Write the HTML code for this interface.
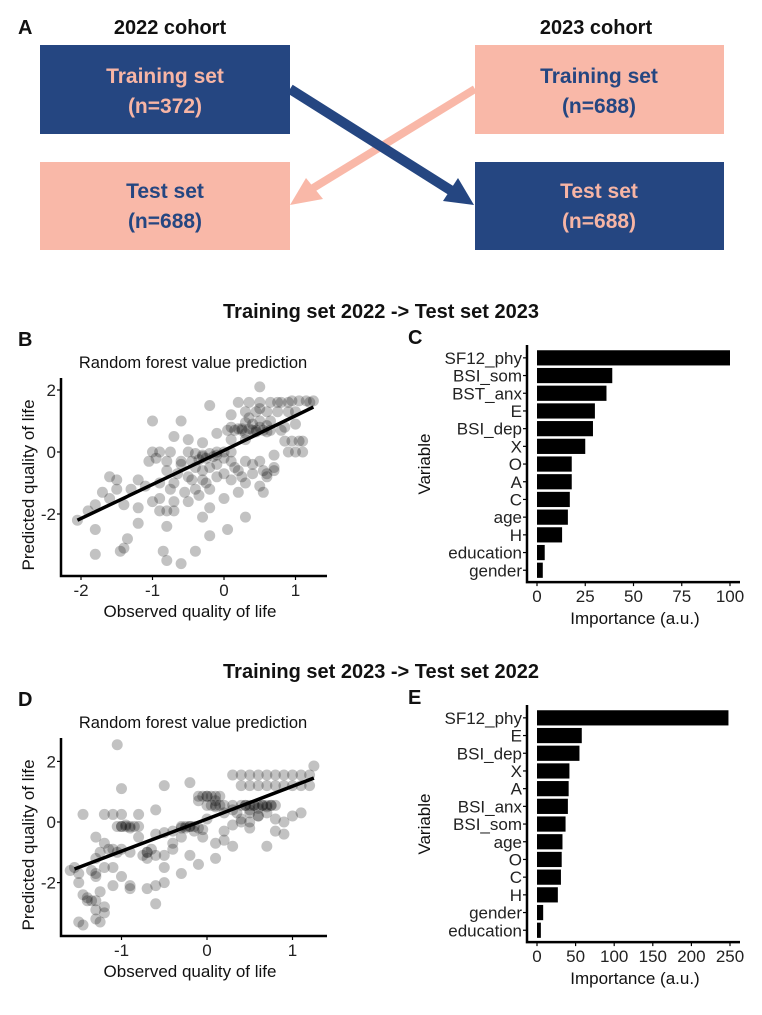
<!DOCTYPE html>
<html><head><meta charset="utf-8">
<style>
html,body{margin:0;padding:0;background:#fff;}
svg{display:block;font-family:"Liberation Sans",sans-serif;}
</style></head>
<body>
<svg id="fig" width="762" height="1015" viewBox="0 0 762 1015">
  <g font-family="Liberation Sans Narrow, Liberation Sans, sans-serif" font-weight="bold">
    <text x="18" y="34" font-size="20" fill="#111">A</text>
    <text x="170" y="34" font-size="20" text-anchor="middle" fill="#111">2022 cohort</text>
    <text x="596" y="34" font-size="20" text-anchor="middle" fill="#111">2023 cohort</text>
    <rect x="40" y="45" width="250" height="89" fill="#254681"/>
    <text x="165" y="83" font-size="21" text-anchor="middle" fill="#f7b5a5">Training set</text>
    <text x="165" y="113" font-size="21" text-anchor="middle" fill="#f7b5a5">(n=372)</text>
    <rect x="40" y="162" width="250" height="88" fill="#f9b8a8"/>
    <text x="165" y="198" font-size="21" text-anchor="middle" fill="#254681">Test set</text>
    <text x="165" y="228" font-size="21" text-anchor="middle" fill="#254681">(n=688)</text>
    <rect x="475" y="45" width="249" height="89" fill="#f9b8a8"/>
    <text x="599" y="83" font-size="21" text-anchor="middle" fill="#254681">Training set</text>
    <text x="599" y="113" font-size="21" text-anchor="middle" fill="#254681">(n=688)</text>
    <rect x="475" y="162" width="249" height="88" fill="#254681"/>
    <text x="599" y="198" font-size="21" text-anchor="middle" fill="#f7b5a5">Test set</text>
    <text x="599" y="228" font-size="21" text-anchor="middle" fill="#f7b5a5">(n=688)</text>
    <line x1="475" y1="89" x2="305" y2="193" stroke="#f9b8a8" stroke-width="8"/>
    <polygon points="290,205 306,178 323,199" fill="#f9b8a8"/>
    <line x1="290" y1="89" x2="455" y2="193" stroke="#254681" stroke-width="10"/>
    <polygon points="474,205 458,178 443,201" fill="#254681"/>
    <text x="381" y="318" font-size="20" text-anchor="middle" fill="#111">Training set 2022 -&gt; Test set 2023</text>
    <text x="381" y="678" font-size="20" text-anchor="middle" fill="#111">Training set 2023 -&gt; Test set 2022</text>
  </g>
  <g id="charts"></g>
</svg>
<script>
const obsB = [0.2,0.35,0.5,0.65,0.8,0.95,1.05,1.15,1.25,0.3,0.45,0.6,0.75,0.9,1.0,0.05,0.15,0.25,0.35,0.45,0.55,0.65,0.4,0.3,0.5,0.85,0.95,1.05,1.1,-0.5,-0.4,-0.3,-0.2,-0.1,0,0.1,0.9,1.0,1.1,0.7,-1.0,-0.9,-0.75,-0.8,-0.6,-0.4,-0.2,0.1,0.3,0.5,0.7,0.2,0.4,0.6,-0.5,-0.3,-0.1,0.1,0.3,0.5,-0.7,-0.9,-1.1,-0.4,-0.2,0,0.2,0.55,-0.9,-0.7,-0.5,-0.8,-0.9,-0.7,-1.0,-1.2,-1.4,-1.6,-1.7,-1.5,-1.6,-1.8,-1.9,-2.05,-1.8,-1.35,-1.4,-1.8,-1.45,-0.8,-0.6,-0.8,-0.85,-0.4,-0.2,-0.3,0.05,0.3,-1.2,-0.2,-1.0,-0.6,-0.2,0.1,0.5,-0.7,-0.5,-0.3,0.1,0.3,-0.1,0.6,0.7,-1.3,-1.5,-1.2,0.2,0.4,0.3,0.5,0.6,-0.3,-0.1,0.0,0.8,0.1,0.25,0.45,0.6,0.35,0.5,-0.25,-0.15,-0.35,-0.45,-0.6,-0.8,-0.3,-0.1,0.15,0.4,0.55,-0.65,-0.45,-0.25,0.0,0.25,-1.05,-0.95,0.65,0.85,1.0,1.2,0.75,0.9,-0.55,-0.35,-0.75];
const predB = [1.6,1.6,1.6,1.6,1.6,1.65,1.65,1.65,1.65,1.3,1.3,1.3,1.3,1.3,1.3,0.7,0.7,0.7,0.75,0.7,0.7,0.7,0.9,0.95,1.0,0.35,0.35,0.35,0.35,0,-0.05,-0.1,-0.05,0,0,0,0,0,0,-0.1,0,0,0,-0.3,-0.3,-0.5,-0.5,-0.3,-0.3,-0.3,-0.5,-0.6,-0.7,-0.7,-0.8,-0.9,-0.8,-0.9,-1.0,-1.1,-1.0,-1.0,-1.1,-1.2,-1.2,-1.5,-1.3,-1.3,-1.5,-1.6,-1.6,-1.9,-1.9,-1.9,-1.6,-1.8,-1.7,-1.5,-1.3,-0.9,-0.8,-1.7,-1.9,-2.2,-2.5,-2.8,-3.1,-3.3,-3.2,-2.4,-3.6,-3.5,-3.2,-3.2,-2.7,-2.1,-2.5,-2.1,-2.3,-1.8,1.0,1.0,1.5,1.2,2.1,0.5,0.4,0.3,0.4,0.4,0.6,-0.8,-0.6,-1.2,-1.2,-0.9,0.75,0.7,0.6,0.8,0.65,-0.15,-0.1,-0.2,0.7,0.8,0.75,0.65,0.85,1.1,1.4,-0.2,-0.15,-0.25,-0.3,-0.4,-0.6,-0.6,-0.4,-0.5,-0.4,-0.6,-0.7,-0.9,-1.0,-0.7,-0.8,-0.3,-0.2,1.0,0.8,0.9,1.6,1.6,1.6,-1.3,-1.4,-1.2];
const fitB = [[-2.05,-2.2],[0,0.05],[1.25,1.45]];
const obsD = [0,0.05,0.1,0.15,0.2,0.3,0.4,0.45,0.5,0.55,0.6,0.65,0.7,0.75,0.8,-0.1,-0.05,0,0.05,0.1,0.15,0.3,0.4,0.5,0.6,0.7,0.8,0.9,1.0,1.1,1.2,0.4,0.5,0.6,0.7,0.8,0.9,1.0,1.1,1.2,-1.05,-1.0,-0.95,-0.9,-0.85,-0.8,-0.3,-0.25,-0.2,-0.15,-0.1,-0.05,-1.45,-1.2,-1.1,-1.0,-0.8,-0.6,-1.3,-1.2,-1.1,-1.0,-0.9,-0.7,-0.6,-0.5,-0.4,-0.3,-0.8,-0.6,-0.4,-0.2,-1.3,-1.2,-1.1,-1.0,-0.7,-0.5,-1.4,-1.3,-1.2,-1.55,-1.5,-1.45,-1.35,-1.3,-1.25,-1.2,-1.5,-1.45,-1.3,-1.25,-1.6,-1.5,-1.3,-1.1,-0.9,-0.6,-0.6,-0.3,-0.1,-0.5,-1.05,-1.0,-0.5,-0.2,0,0.2,0.3,0.1,0.3,0.5,0.6,0.7,0.8,0.9,1.0,1.1,0.9,0.7,0.8,0.4,0.2,0.1,1.25,-0.05,0.1,0.2,0.35,0.5,-0.9,-0.7,0.45,0.55,0.65,0.75,0.5,0.6,0.7,-0.1,0.0,0.1,-0.2,-0.25,-0.15,-1.0,-0.95,-0.9,-1.25,-1.15,-1.05,-0.7,-0.75,-0.65,-1.35,-1.3,-1.4,0.5,0.6,0.4,0.3,-0.4,-0.5,-0.3];
const predD = [0.55,0.55,0.55,0.55,0.55,0.55,0.55,0.55,0.55,0.55,0.55,0.55,0.55,0.55,0.55,0.85,0.85,0.85,0.85,0.85,0.85,1.55,1.55,1.55,1.55,1.55,1.55,1.55,1.55,1.55,1.55,1.2,1.2,1.2,1.2,1.2,1.2,1.2,1.2,1.2,-0.15,-0.15,-0.15,-0.15,-0.15,-0.15,-0.15,-0.15,-0.15,-0.15,-0.2,-0.25,0.25,0.25,0.25,0.25,0.25,0.4,-0.5,-0.7,-0.9,-0.9,-1.0,-1.0,-1.1,-1.1,-0.7,-0.5,-0.5,-0.4,-0.9,-1.1,-1.2,-1.5,-1.5,-1.8,-1.2,-1.5,-2.5,-2.6,-2.8,-1.5,-2.0,-2.4,-2.6,-2.9,-3.3,-3.0,-3.3,-3.4,-3.2,-2.3,-1.6,-1.7,-1.8,-2.1,-2.1,-2.1,-2.7,-1.7,-1.4,-2.0,2.55,1.1,1.2,1.3,0.1,-0.3,-0.1,-0.7,-0.8,-0.2,0.2,0.3,-0.3,0.0,0.2,0.3,-0.4,-0.8,0.1,0.0,0.3,0.5,1.85,-0.5,-1.2,-0.6,0.3,0.0,-2.2,-2.2,0.55,0.55,0.55,0.55,0.4,0.45,0.5,0.7,0.85,0.7,-0.15,-0.2,-0.3,-0.15,-0.1,-0.2,-1.0,-0.9,-1.0,-1.0,-1.1,-0.9,-1.6,-1.7,-2.6,0.3,0.2,0.1,0.4,-0.3,-0.35,-0.2];
const fitD = [[-1.55,-1.55],[0,0.1],[1.25,1.45]];
const varsC = ["SF12_phy","BSI_som","BST_anx","E","BSI_dep","X","O","A","C","age","H","education","gender"];
const impC = [100,39,36,30,29,25,18,18,17,16,13,4,3];
const ticksC = [0,25,50,75,100];
const varsE = ["SF12_phy","E","BSI_dep","X","A","BSI_anx","BSI_som","age","O","C","H","gender","education"];
const impE = [248,58,55,42,41,40,37,33,32,31,27,8,5];
const ticksE = [0,50,100,150,200,250];
const xTicksB = [-2,-1,0,1];
const yTicksB = [-2,0,2];
const xTicksD = [-1,0,1];
const yTicksD = [-2,0,2];

const NS = "http://www.w3.org/2000/svg";
const root = document.getElementById('charts');
function mk(tag, attrs, parent, text){
  const e = document.createElementNS(NS, tag);
  for (const k in attrs) e.setAttribute(k, attrs[k]);
  if (text !== undefined) e.textContent = text;
  (parent || root).appendChild(e);
  return e;
}

function scatter(cfg, obs, pred, fit, xt, yt){
  const g = mk('g', {});
  
  
  const sx = v => cfg.x0 + v * cfg.kx;
  const sy = v => cfg.y0 - v * cfg.ky;
  const lab = mk('text', {x:18, y:cfg.labelY, 'font-size':20, 'font-weight':'bold', fill:'#111'}, g, cfg.label);
  
  
  const t = mk('text', {x:193, y:cfg.titleY, 'font-size':16.5, 'text-anchor':'middle', fill:'#111'}, g, 'Random forest value prediction');
  
  
  for (let i = 0; i < obs.length; i++){
    const c = mk('circle', {cx:sx(obs[i]), cy:sy(pred[i]), r:5.5, fill:'rgba(0,0,0,0.24)'}, g);
    
    
  }
  const pts = fit.map(p => sx(p[0]) + ',' + sy(p[1])).join(' ');
  const fl = mk('polyline', {points:pts, fill:'none', stroke:'#000', 'stroke-width':3.5}, g);
  
  
  const ax = mk('path', {d:`M${cfg.axX},${cfg.axTop} V${cfg.axY} H${cfg.axRight}`, fill:'none', stroke:'#000', 'stroke-width':2.5}, g);
  
  
  xt.forEach(v => {
    mk('line', {x1:sx(v), x2:sx(v), y1:cfg.axY, y2:cfg.axY+4, stroke:'#000', 'stroke-width':1.2}, g);
    const tl = mk('text', {x:sx(v), y:cfg.axY+20, 'font-size':17, 'text-anchor':'middle', fill:'#222'}, g, String(v));
    
    
  });
  yt.forEach(v => {
    mk('line', {x1:cfg.axX-4, x2:cfg.axX, y1:sy(v), y2:sy(v), stroke:'#000', 'stroke-width':1.2}, g);
    const tl = mk('text', {x:cfg.axX-5, y:sy(v)+6, 'font-size':17, 'text-anchor':'end', fill:'#222'}, g, String(v));
    
    
  });
  const xtit = mk('text', {x:190, y:cfg.axY+41, 'font-size':17, 'text-anchor':'middle', fill:'#111'}, g, 'Observed quality of life');
  
  
  const cy = (cfg.axTop + cfg.axY) / 2 + 8;
  const ytit = mk('text', {x:34, y:cy, 'font-size':17, 'text-anchor':'middle', fill:'#111', transform:`rotate(-90 34 ${cy})`}, g, 'Predicted quality of life');
  
  
}

function bars(cfg, vars, vals, ticks){
  const g = mk('g', {});
  
  
  const sx = v => cfg.x0 + v * cfg.kx;
  const pitch = 17.7;
  const lab = mk('text', {x:408, y:cfg.labelY, 'font-size':20, 'font-weight':'bold', fill:'#111'}, g, cfg.label);
  
  
  vars.forEach((name, i) => {
    const cy = cfg.top + pitch/2 + i * pitch;
    const r = mk('rect', {x:sx(0), y:cy-7.6, width:Math.max(0, sx(vals[i]) - sx(0)), height:15.2, fill:'#000'}, g);
    
    
    mk('line', {x1:cfg.axX-4, x2:cfg.axX, y1:cy, y2:cy, stroke:'#000', 'stroke-width':1.2}, g);
    const tl = mk('text', {x:cfg.axX-5, y:cy+6, 'font-size':17, 'text-anchor':'end', fill:'#222'}, g, name);
    
    
  });
  const axY = cfg.top + vars.length * pitch + 3;
  const ax = mk('path', {d:`M${cfg.axX},${cfg.top-4} V${axY} H${cfg.axRight}`, fill:'none', stroke:'#000', 'stroke-width':2.5}, g);
  
  
  ticks.forEach(v => {
    mk('line', {x1:sx(v), x2:sx(v), y1:axY, y2:axY+4, stroke:'#000', 'stroke-width':1.2}, g);
    const tl = mk('text', {x:sx(v), y:axY+20, 'font-size':17, 'text-anchor':'middle', fill:'#222'}, g, String(v));
    
    
  });
  const xtit = mk('text', {x:635, y:axY+42, 'font-size':17, 'text-anchor':'middle', fill:'#111'}, g, 'Importance (a.u.)');
  
  
  const cy = cfg.top + vars.length * pitch / 2;
  const ytit = mk('text', {x:430, y:cy, 'font-size':17, 'text-anchor':'middle', fill:'#111', transform:`rotate(-90 430 ${cy})`}, g, 'Variable');
  
  
}

scatter({name:'panel-b-scatter', label:'B', labelY:346, titleY:368, x0:224, kx:71.5, y0:452, ky:31,
  axX:61, axTop:378, axY:576, axRight:327}, obsB, predB, fitB, xTicksB, yTicksB);
scatter({name:'panel-d-scatter', label:'D', labelY:706, titleY:728, x0:207, kx:85.5, y0:822, ky:30.3,
  axX:61, axTop:738, axY:936, axRight:327}, obsD, predD, fitD, xTicksD, yTicksD);
bars({name:'panel-c-importance', label:'C', labelY:344, top:349, x0:537, kx:1.93, axX:527, axRight:740}, varsC, impC, ticksC);
bars({name:'panel-e-importance', label:'E', labelY:704, top:709, x0:537, kx:0.772, axX:527, axRight:740}, varsE, impE, ticksE);
</script>
</body></html>
